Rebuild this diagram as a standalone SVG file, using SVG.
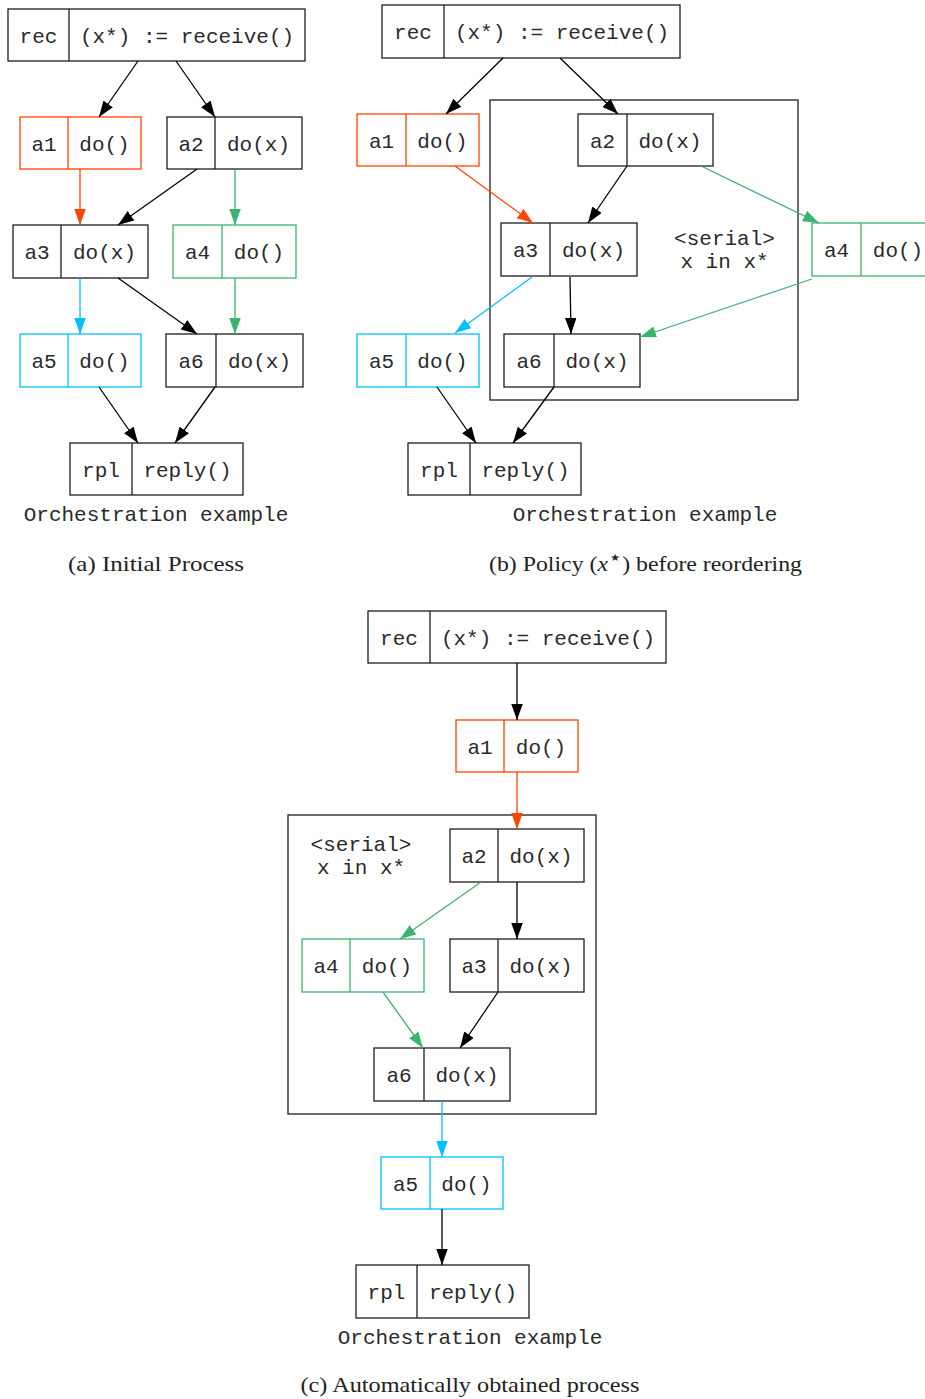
<svg xmlns="http://www.w3.org/2000/svg" width="925" height="1399" viewBox="0 0 925 1399">
<style>
.n rect, .n line {fill:none; stroke:#1e1e1e; stroke-width:1.3}
.n.o rect, .n.o line {stroke:#ff4500}
.n.g rect, .n.g line {stroke:#3cb371}
.n.b rect, .n.b line {stroke:#00bfff}
.cl {fill:none; stroke:#1e1e1e; stroke-width:1.3}
text.m {font-family:"Liberation Mono", monospace; font-size:21px; text-anchor:middle; fill:#2a2a2a}
text.c {font-family:"Liberation Serif", serif; font-size:21px; text-anchor:middle; fill:#222}
.e {fill:none; stroke-width:1.3}
.k {stroke:#000; marker-end:url(#ak)}
.eo {stroke:#ff4500; marker-end:url(#ao)}
.eg {stroke:#3cb371; marker-end:url(#ag)}
.eb {stroke:#00bfff; marker-end:url(#ab)}
</style>
<defs>
<marker id="ak" markerUnits="userSpaceOnUse" markerWidth="17" markerHeight="12" refX="16" refY="5.75" orient="auto"><path d="M0,0 L16,5.75 L0,11.5 z" fill="#000"/></marker>
<marker id="ao" markerUnits="userSpaceOnUse" markerWidth="17" markerHeight="12" refX="16" refY="5.75" orient="auto"><path d="M0,0 L16,5.75 L0,11.5 z" fill="#ff4500"/></marker>
<marker id="ag" markerUnits="userSpaceOnUse" markerWidth="17" markerHeight="12" refX="16" refY="5.75" orient="auto"><path d="M0,0 L16,5.75 L0,11.5 z" fill="#3cb371"/></marker>
<marker id="ab" markerUnits="userSpaceOnUse" markerWidth="17" markerHeight="12" refX="16" refY="5.75" orient="auto"><path d="M0,0 L16,5.75 L0,11.5 z" fill="#00bfff"/></marker>
</defs>
<rect width="925" height="1399" fill="#fff"/>

<!-- ===== (a) ===== -->
<g id="a-rec" class="n"><rect x="8" y="9" width="297" height="52"/><line x1="69" y1="9" x2="69" y2="61"/><text class="m" x="38.5" y="42.5">rec</text><text class="m" x="187" y="42.5">(x*) := receive()</text></g>
<g id="a-a1" class="n o"><rect x="20" y="117" width="121" height="52"/><line x1="68" y1="117" x2="68" y2="169"/><text class="m" x="44" y="150.5">a1</text><text class="m" x="104.5" y="150.5">do()</text></g>
<g id="a-a2" class="n"><rect x="167" y="117" width="135" height="52"/><line x1="215" y1="117" x2="215" y2="169"/><text class="m" x="191" y="150.5">a2</text><text class="m" x="258.5" y="150.5">do(x)</text></g>
<g id="a-a3" class="n"><rect x="13" y="225" width="135" height="53"/><line x1="61" y1="225" x2="61" y2="278"/><text class="m" x="37" y="259">a3</text><text class="m" x="104.5" y="259">do(x)</text></g>
<g id="a-a4" class="n g"><rect x="173" y="225" width="123" height="53"/><line x1="222" y1="225" x2="222" y2="278"/><text class="m" x="197.5" y="259">a4</text><text class="m" x="259" y="259">do()</text></g>
<g id="a-a5" class="n b"><rect x="20" y="334" width="121" height="53"/><line x1="68" y1="334" x2="68" y2="387"/><text class="m" x="44" y="368">a5</text><text class="m" x="104.5" y="368">do()</text></g>
<g id="a-a6" class="n"><rect x="166" y="334" width="137" height="53"/><line x1="216" y1="334" x2="216" y2="387"/><text class="m" x="191" y="368">a6</text><text class="m" x="259.5" y="368">do(x)</text></g>
<g id="a-rpl" class="n"><rect x="70" y="443" width="173" height="52"/><line x1="132" y1="443" x2="132" y2="495"/><text class="m" x="101" y="476.5">rpl</text><text class="m" x="187.5" y="476.5">reply()</text></g>
<text class="m" x="156" y="521">Orchestration example</text>
<text class="c" x="156" y="571" textLength="176" lengthAdjust="spacingAndGlyphs">(a) Initial Process</text>

<!-- ===== (b) ===== -->
<g id="b-cluster"><rect class="cl" x="490" y="100" width="308" height="300"/><text class="m" x="724.5" y="245">&lt;serial&gt;</text><text class="m" x="724.5" y="268">x in x*</text></g>
<g id="b-rec" class="n"><rect x="382" y="5" width="298" height="53"/><line x1="444" y1="5" x2="444" y2="58"/><text class="m" x="413" y="39">rec</text><text class="m" x="562" y="39">(x*) := receive()</text></g>
<g id="b-a1" class="n o"><rect x="357" y="114" width="122" height="52"/><line x1="406" y1="114" x2="406" y2="166"/><text class="m" x="381.5" y="147.5">a1</text><text class="m" x="442.5" y="147.5">do()</text></g>
<g id="b-a2" class="n"><rect x="578" y="114" width="135" height="52"/><line x1="627" y1="114" x2="627" y2="166"/><text class="m" x="602.5" y="147.5">a2</text><text class="m" x="670" y="147.5">do(x)</text></g>
<g id="b-a3" class="n"><rect x="501" y="223" width="136" height="53"/><line x1="550" y1="223" x2="550" y2="276"/><text class="m" x="525.5" y="257">a3</text><text class="m" x="593.5" y="257">do(x)</text></g>
<g id="b-a4" class="n g"><rect x="812" y="223" width="123" height="53"/><line x1="861" y1="223" x2="861" y2="276"/><text class="m" x="836.5" y="257">a4</text><text class="m" x="898" y="257">do()</text></g>
<g id="b-a5" class="n b"><rect x="357" y="334" width="122" height="53"/><line x1="406" y1="334" x2="406" y2="387"/><text class="m" x="381.5" y="368">a5</text><text class="m" x="442.5" y="368">do()</text></g>
<g id="b-a6" class="n"><rect x="504" y="334" width="136" height="53"/><line x1="554" y1="334" x2="554" y2="387"/><text class="m" x="529" y="368">a6</text><text class="m" x="597" y="368">do(x)</text></g>
<g id="b-rpl" class="n"><rect x="408" y="443" width="173" height="52"/><line x1="470" y1="443" x2="470" y2="495"/><text class="m" x="439" y="476.5">rpl</text><text class="m" x="525.5" y="476.5">reply()</text></g>
<text class="m" x="645" y="521">Orchestration example</text>
<text class="c" x="645.5" y="571" textLength="313" lengthAdjust="spacingAndGlyphs">(b) Policy (<tspan font-style="italic">x</tspan><tspan dy="-7" font-size="20" font-family="'DejaVu Sans', sans-serif">⋆</tspan><tspan dy="7">) before reordering</tspan></text>

<!-- ===== (c) ===== -->
<g id="c-cluster"><rect class="cl" x="288" y="815" width="308" height="299"/><text class="m" x="361" y="851">&lt;serial&gt;</text><text class="m" x="361" y="874">x in x*</text></g>
<g id="c-rec" class="n"><rect x="368" y="611" width="298" height="52"/><line x1="430" y1="611" x2="430" y2="663"/><text class="m" x="399" y="644.5">rec</text><text class="m" x="548" y="644.5">(x*) := receive()</text></g>
<g id="c-a1" class="n o"><rect x="456" y="720" width="122" height="52"/><line x1="504" y1="720" x2="504" y2="772"/><text class="m" x="480" y="753.5">a1</text><text class="m" x="541" y="753.5">do()</text></g>
<g id="c-a2" class="n"><rect x="450" y="829" width="134" height="53"/><line x1="498" y1="829" x2="498" y2="882"/><text class="m" x="474" y="863">a2</text><text class="m" x="541" y="863">do(x)</text></g>
<g id="c-a4" class="n g"><rect x="302" y="939" width="122" height="53"/><line x1="350" y1="939" x2="350" y2="992"/><text class="m" x="326" y="973">a4</text><text class="m" x="387" y="973">do()</text></g>
<g id="c-a3" class="n"><rect x="450" y="939" width="134" height="53"/><line x1="498" y1="939" x2="498" y2="992"/><text class="m" x="474" y="973">a3</text><text class="m" x="541" y="973">do(x)</text></g>
<g id="c-a6" class="n"><rect x="374" y="1048" width="136" height="53"/><line x1="424" y1="1048" x2="424" y2="1101"/><text class="m" x="399" y="1082">a6</text><text class="m" x="467" y="1082">do(x)</text></g>
<g id="c-a5" class="n b"><rect x="381" y="1157" width="122" height="52"/><line x1="430" y1="1157" x2="430" y2="1209"/><text class="m" x="405.5" y="1190.5">a5</text><text class="m" x="466.5" y="1190.5">do()</text></g>
<g id="c-rpl" class="n"><rect x="356" y="1265" width="173" height="53"/><line x1="417" y1="1265" x2="417" y2="1318"/><text class="m" x="386.5" y="1299">rpl</text><text class="m" x="473" y="1299">reply()</text></g>
<text class="m" x="470" y="1344">Orchestration example</text>
<text class="c" x="470" y="1392" textLength="339" lengthAdjust="spacingAndGlyphs">(c) Automatically obtained process</text>

<!-- ===== connectors ===== -->
<g id="connectors">
<path class="e k" d="M138,61 L99,117"/>
<path class="e k" d="M176,61 L215,117"/>
<path class="e eo" d="M80,169 L80,225"/>
<path class="e k" d="M197,169 L118,225"/>
<path class="e eg" d="M235,169 L235,225"/>
<path class="e eb" d="M80,278 L80,334"/>
<path class="e k" d="M118,278 L197,334"/>
<path class="e eg" d="M235,278 L235,334"/>
<path class="e k" d="M99,387 L138,443"/>
<path class="e k" d="M215,387 L175,443"/>

<path class="e k" d="M503,58 L446,114"/>
<path class="e k" d="M560,58 L618,114"/>
<path class="e eo" d="M455,166 L533,223"/>
<path class="e k" d="M627,166 L588,223"/>
<path class="e eg" d="M701,166 L819,223"/>
<path class="e eb" d="M532,277 L455,333"/>
<path class="e k" d="M570,277 L571,334"/>
<path class="e eg" d="M812,279 L640,337"/>
<path class="e k" d="M437,387 L476,443"/>
<path class="e k" d="M554,387 L513,443"/>

<path class="e k" d="M517,663 L517,720"/>
<path class="e eo" d="M517,772 L517,829"/>
<path class="e eg" d="M481,882 L400,939"/>
<path class="e k" d="M517,882 L517,939"/>
<path class="e eg" d="M383,992 L423,1048"/>
<path class="e k" d="M498,992 L460,1048"/>
<path class="e eb" d="M442,1101 L442,1157"/>
<path class="e k" d="M442,1209 L442,1265"/>
</g>
</svg>
